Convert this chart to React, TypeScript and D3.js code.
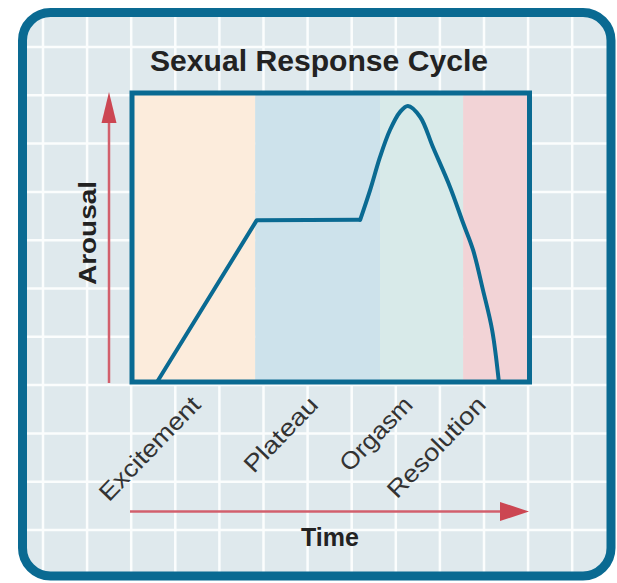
import * as d3 from "d3";

// phases along the time axis (0..100), boundaries
const phases = ["Excitement", "Plateau", "Orgasm", "Resolution"];
const phaseStart = [0, 31, 62.4, 83.3];
const phaseEnd = [31, 62.4, 83.3, 100];
const phaseColors = ["#fcecdc", "#cde2eb", "#d8eae9", "#f2d3d6"];
// where each rotated label ends, in time units
const labelTime = [17.6, 47.2, 71.0, 89.4];

// arousal curve: straight ramp + plateau, then the orgasm hump
const rampTime = [6.3, 31.4, 57.4];
const rampArousal = [0, 56, 56.1];
const humpTime = [57.4, 59.9, 62.4, 64.9, 67.4, 69.4, 72.5, 75.7, 80, 83.3, 85.8, 88.3, 90.6, 92.3];
const humpArousal = [56.1, 66.4, 77.9, 87.2, 93.4, 95.5, 91.7, 81.3, 67.5, 55, 45.7, 31.8, 18, 0];

const W = 617;
const H = 583;
const FRAME = "#0a6a92";
const RED = "#cc4652";
const TEXT = "#222";
const FONT = "Liberation Sans, Arial, sans-serif";

export default function App() {
  const x = d3.scaleLinear().domain([0, 100]).range([132, 529.5]);
  const y = d3.scaleLinear().domain([0, 100]).range([382, 93]);

  const ramp = d3.line<number>()
    .x((d, i) => x(rampTime[i]))
    .y((d, i) => y(rampArousal[i]))
    .curve(d3.curveLinear)(rampTime);
  const hump = d3.line<number>()
    .x((d, i) => x(humpTime[i]))
    .y((d, i) => y(humpArousal[i]))
    .curve(d3.curveCatmullRom.alpha(0.5))(humpTime);

  const vLines = d3.range(43, 612, 44.1);
  const hLines = d3.range(47, 576, 48.3);

  const labelLen = [134, 95, 93, 130];

  return (
    <svg width={W} height={H} style={{ position: "absolute", left: 0, top: 0, background: "#fff" }}>
      <defs>
        <clipPath id="frameClip">
          <rect x={22.5} y={12.5} width={588.5} height={563.5} rx={28} />
        </clipPath>
      </defs>
      <rect x={22.5} y={12.5} width={588.5} height={563.5} rx={28} fill="#dfe9ed" />
      <g clipPath="url(#frameClip)" stroke="#fbfdfd" strokeWidth={2.5}>
        {vLines.map((v) => (
          <line key={"v" + v} x1={v} x2={v} y1={0} y2={H} />
        ))}
        {hLines.map((h) => (
          <line key={"h" + h} x1={0} x2={W} y1={h} y2={h} />
        ))}
      </g>

      <text x={319} y={71} textAnchor="middle" fontFamily={FONT}
        fontWeight="bold" fontSize={30} textLength={338} lengthAdjust="spacingAndGlyphs" fill={TEXT}>
        Sexual Response Cycle
      </text>

      {phases.map((p, i) => (
        <rect key={p} x={x(phaseStart[i])} y={y(100)} width={x(phaseEnd[i]) - x(phaseStart[i])}
          height={y(0) - y(100)} fill={phaseColors[i]} />
      ))}

      <path d={ramp ?? ""} fill="none" stroke={FRAME} strokeWidth={4} strokeLinejoin="round" />
      <path d={hump ?? ""} fill="none" stroke={FRAME} strokeWidth={4} strokeLinejoin="round" strokeLinecap="round" />

      <rect x={x(0)} y={y(100)} width={x(100) - x(0)} height={y(0) - y(100)} fill="none"
        stroke={FRAME} strokeWidth={5} />

      {/* arousal arrow */}
      <line x1={109} x2={109} y1={383} y2={118} stroke="#d25f6c" strokeWidth={2.5} />
      <path d="M109,92 L101.5,123 L116.5,123 Z" fill={RED} />
      <text transform="translate(96,233) rotate(-90)" textAnchor="middle"
        fontFamily={FONT} fontWeight="bold" fontSize={23}
        textLength={104} lengthAdjust="spacingAndGlyphs" fill={TEXT}>
        Arousal
      </text>

      {/* time arrow */}
      <line x1={130} x2={505} y1={511.5} y2={511.5} stroke="#d25f6c" strokeWidth={2.5} />
      <path d="M529,511.5 L500,502 L500,521 Z" fill={RED} />
      <text x={330} y={546} textAnchor="middle" fontFamily={FONT}
        fontWeight="bold" fontSize={25} fill={TEXT}>
        Time
      </text>

      {phases.map((p, i) => (
        <text key={"l" + p} transform={`translate(${x(labelTime[i])},406) rotate(-46)`}
          textAnchor="end" fontFamily={FONT} fontSize={24}
          textLength={labelLen[i]} lengthAdjust="spacingAndGlyphs" fill="#333">
          {p}
        </text>
      ))}

      <rect x={22.5} y={12.5} width={588.5} height={563.5} rx={28} fill="none"
        stroke={FRAME} strokeWidth={9} />
    </svg>
  );
}
